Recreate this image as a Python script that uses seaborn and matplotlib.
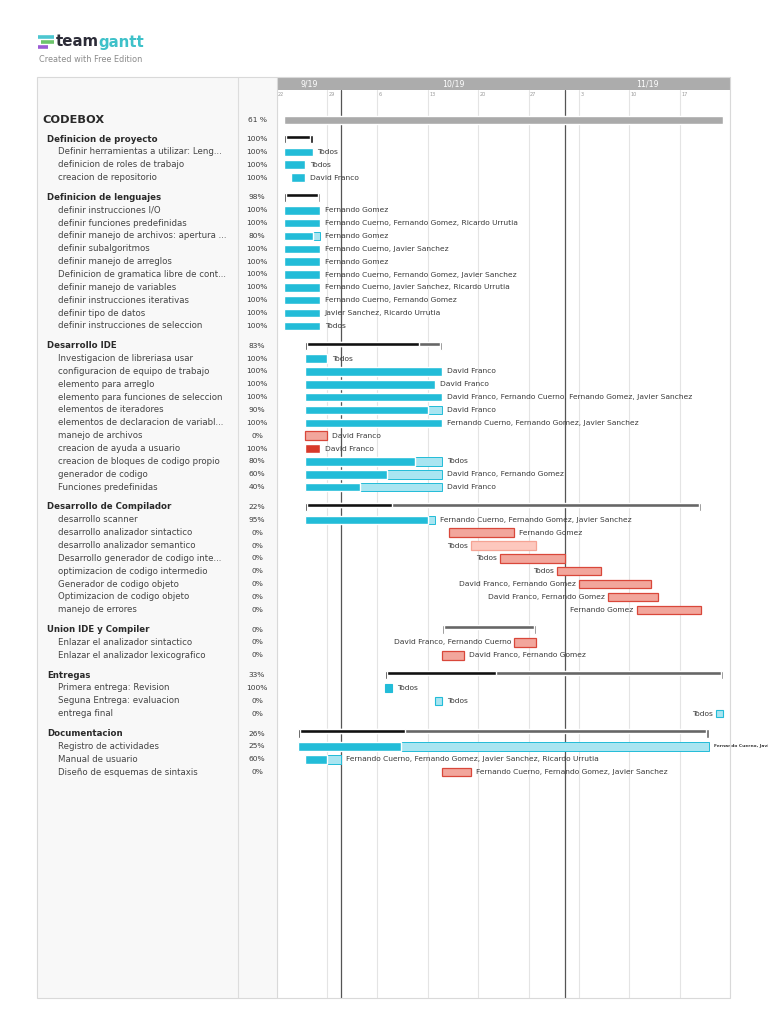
import pandas as pd
import numpy as np
import seaborn as sns
import matplotlib.pyplot as plt
from matplotlib.patches import Rectangle

sns.set_theme(style="white")
plt.rcParams['font.family'] = ['DejaVu Sans']

project_name = "CODEBOX"
project_pct = "61 %"

group_names = ["Definicion de proyecto", "Definicion de lenguajes", "Desarrollo IDE",
               "Desarrollo de Compilador", "Union IDE y Compiler", "Entregas", "Documentacion"]
group_pct = [100, 98, 83, 22, 0, 33, 26]

task_group = [0, 0, 0,
              1, 1, 1, 1, 1, 1, 1, 1, 1, 1,
              2, 2, 2, 2, 2, 2, 2, 2, 2, 2, 2,
              3, 3, 3, 3, 3, 3, 3, 3,
              4, 4,
              5, 5, 5,
              6, 6, 6]

task_names = ["Definir herramientas a utilizar: Leng...", "definicion de roles de trabajo",
              "creacion de repositorio",
              "definir instrucciones I/O", "definir funciones predefinidas",
              "definir manejo de archivos: apertura ...", "definir subalgoritmos",
              "definir manejo de arreglos", "Definicion de gramatica libre de cont...",
              "definir manejo de variables", "definir instrucciones iterativas",
              "definir tipo de datos", "definir instrucciones de seleccion",
              "Investigacion de libreriasa usar", "configuracion de equipo de trabajo",
              "elemento para arreglo", "elemento para funciones de seleccion",
              "elementos de iteradores", "elementos de declaracion de variabl...",
              "manejo de archivos", "creacion de ayuda a usuario",
              "creacion de bloques de codigo propio", "generador de codigo",
              "Funciones predefinidas",
              "desarrollo scanner", "desarrollo analizador sintactico",
              "desarrollo analizador semantico", "Desarrollo generador de codigo inte...",
              "optimizacion de codigo intermedio", "Generador de codigo objeto",
              "Optimizacion de codigo objeto", "manejo de errores",
              "Enlazar el analizador sintactico", "Enlazar el analizador lexicografico",
              "Primera entrega: Revision", "Seguna Entrega: evaluacion", "entrega final",
              "Registro de actividades", "Manual de usuario", "Diseño de esquemas de sintaxis"]

task_pct = [100, 100, 100,
            100, 100, 80, 100, 100, 100, 100, 100, 100, 100,
            100, 100, 100, 100, 90, 100, 0, 100, 80, 60, 40,
            95, 0, 0, 0, 0, 0, 0, 0,
            0, 0,
            100, 0, 0,
            25, 60, 0]

task_start = ["2019-09-23", "2019-09-23", "2019-09-24",
              "2019-09-23", "2019-09-23", "2019-09-23", "2019-09-23", "2019-09-23",
              "2019-09-23", "2019-09-23", "2019-09-23", "2019-09-23", "2019-09-23",
              "2019-09-26", "2019-09-26", "2019-09-26", "2019-09-26", "2019-09-26",
              "2019-09-26", "2019-09-26", "2019-09-26", "2019-09-26", "2019-09-26",
              "2019-09-26",
              "2019-09-26", "2019-10-16", "2019-10-19", "2019-10-23", "2019-10-31",
              "2019-11-03", "2019-11-07", "2019-11-11",
              "2019-10-25", "2019-10-15",
              "2019-10-07", "2019-10-14", "2019-11-22",
              "2019-09-25", "2019-09-26", "2019-10-15"]

task_end = ["2019-09-27", "2019-09-26", "2019-09-26",
            "2019-09-28", "2019-09-28", "2019-09-28", "2019-09-28", "2019-09-28",
            "2019-09-28", "2019-09-28", "2019-09-28", "2019-09-28", "2019-09-28",
            "2019-09-29", "2019-10-15", "2019-10-14", "2019-10-15", "2019-10-15",
            "2019-10-15", "2019-09-29", "2019-09-28", "2019-10-15", "2019-10-15",
            "2019-10-15",
            "2019-10-14", "2019-10-25", "2019-10-28", "2019-11-01", "2019-11-06",
            "2019-11-13", "2019-11-14", "2019-11-20",
            "2019-10-28", "2019-10-18",
            "2019-10-08", "2019-10-15", "2019-11-23",
            "2019-11-21", "2019-10-01", "2019-10-19"]

task_people = ["Todos", "Todos", "David Franco",
               "Fernando Gomez", "Fernando Cuerno, Fernando Gomez, Ricardo Urrutia",
               "Fernando Gomez", "Fernando Cuerno, Javier Sanchez", "Fernando Gomez",
               "Fernando Cuerno, Fernando Gomez, Javier Sanchez",
               "Fernando Cuerno, Javier Sanchez, Ricardo Urrutia",
               "Fernando Cuerno, Fernando Gomez", "Javier Sanchez, Ricardo Urrutia", "Todos",
               "Todos", "David Franco", "David Franco",
               "David Franco, Fernando Cuerno, Fernando Gomez, Javier Sanchez",
               "David Franco", "Fernando Cuerno, Fernando Gomez, Javier Sanchez",
               "David Franco", "David Franco", "Todos", "David Franco, Fernando Gomez",
               "David Franco",
               "Fernando Cuerno, Fernando Gomez, Javier Sanchez", "Fernando Gomez", "Todos",
               "Todos", "Todos", "David Franco, Fernando Gomez",
               "David Franco, Fernando Gomez", "Fernando Gomez",
               "David Franco, Fernando Cuerno", "David Franco, Fernando Gomez",
               "Todos", "Todos", "Todos",
               "Fernando Cuerno, Javier Sanchez",
               "Fernando Cuerno, Fernando Gomez, Javier Sanchez, Ricardo Urrutia",
               "Fernando Cuerno, Fernando Gomez, Javier Sanchez"]

milestones = ["Primera entrega: Revision", "Seguna Entrega: evaluacion", "entrega final"]
salmon_tasks = ["manejo de archivos", "desarrollo analizador sintactico",
                "Desarrollo generador de codigo inte...", "optimizacion de codigo intermedio",
                "Generador de codigo objeto", "Optimizacion de codigo objeto",
                "manejo de errores", "Enlazar el analizador sintactico",
                "Enlazar el analizador lexicografico", "Diseño de esquemas de sintaxis"]
pale_salmon_tasks = ["desarrollo analizador semantico"]
red_tasks = ["creacion de ayuda a usuario"]
labels_on_left = ["desarrollo analizador semantico", "Desarrollo generador de codigo inte...",
                  "optimizacion de codigo intermedio", "Generador de codigo objeto",
                  "Optimizacion de codigo objeto", "manejo de errores",
                  "Enlazar el analizador sintactico", "entrega final"]
tiny_labels = ["Registro de actividades"]

week_ticks = ["22", "29", "6", "13", "20", "27", "3", "10", "17"]
months = ["9/19", "10/19", "11/19"]

# ---- build table ----
origin = pd.Timestamp("2019-09-22")
tasks = pd.DataFrame({"group": task_group, "name": task_names, "pct": task_pct,
                      "start": pd.to_datetime(task_start), "end": pd.to_datetime(task_end),
                      "people": task_people})
tasks["s"] = (tasks["start"] - origin).dt.days
tasks["e"] = (tasks["end"] - origin).dt.days
groups = tasks.groupby("group").agg(s=("s", "min"), e=("e", "max")).reset_index()
groups["name"] = group_names
groups["pct"] = group_pct

# row layout (figure pixels from the top)
ROW, GAP = 12.85, 7.0
y_project = 120
ypos = []
gy = []
y = 139.0
for g in range(len(group_names)):
    gy.append(y)
    n = (tasks["group"] == g).sum()
    for k in range(n):
        ypos.append(y + (k + 1) * ROW)
    y += (n + 1) * ROW + GAP
tasks["y"] = ypos
groups["y"] = gy

BLUE, LBLUE = "#22bcd8", "#a9e5f1"
SAL, SAL_E = "#f2a69c", "#d9473a"
PSAL, PSAL_E = "#fdc8be", "#f5a394"
RED = "#d8392a"
TXT = "#3a3a3a"

W, H = 768, 1024
fig = plt.figure(figsize=(7.68, 10.24), dpi=100)

X0, PX = 276.5, 7.2
NDAYS = 63
chart_top, box_top, box_bot = 90, 77, 998

# chart axes
ax = fig.add_axes([X0 / W, 1 - box_bot / H, NDAYS * PX / W, (box_bot - chart_top) / H])
ax.set_xlim(0, NDAYS)
ax.set_ylim(box_bot, chart_top)
ax.set_facecolor("white")
ax.set_xticks([])
ax.set_yticks([])
for sp in ax.spines.values():
    sp.set_visible(False)

for d in range(0, NDAYS + 1, 7):
    ax.axvline(d, color="#e4e4e4", lw=0.8, zorder=0)
for i, lab in enumerate(week_ticks):
    ax.text(i * 7 + 0.2, 95, lab, fontsize=3.6, color="#9a9a9a", ha="left", va="center")
month_starts = [0, 9, 40, NDAYS]
for d in month_starts[1:-1]:
    ax.axvline(d, color="#555555", lw=0.9, zorder=0.5)

# project bar
ax.barh(y_project, tasks["e"].max() - tasks["s"].min(), left=tasks["s"].min(),
        height=8, color="#aaaaaa", zorder=2)

# group brackets
for _, r in groups.iterrows():
    span = r["e"] - r["s"]
    done = span * r["pct"] / 100
    top = r["y"] - 4.2
    ax.barh(top + 2, span, left=r["s"], height=4, color="#666666", zorder=2)
    if done > 0:
        ax.barh(top + 2, done, left=r["s"], height=4, color="#111111", zorder=3)
    lw_days = 0.3
    ax.barh(top + 4.2, lw_days, left=r["s"], height=8.4,
            color="#111111" if done > 0 else "#666666", zorder=3)
    ax.barh(top + 4.2, lw_days, left=r["e"] - lw_days, height=8.4,
            color="#111111" if r["pct"] >= 100 else "#666666", zorder=3)

# task bars
for _, r in tasks.iterrows():
    span = r["e"] - r["s"]
    if r["name"] in milestones:
        fc = BLUE if r["pct"] >= 100 else LBLUE
        ax.barh(r["y"], span, left=r["s"], height=7.5, color=fc, edgecolor=BLUE,
                lw=0.8, zorder=3)
    elif r["name"] in red_tasks:
        ax.barh(r["y"], span, left=r["s"], height=8.5, color=RED, zorder=3)
    elif r["name"] in salmon_tasks:
        ax.barh(r["y"], span, left=r["s"], height=8.5, color=SAL, edgecolor=SAL_E,
                lw=0.9, zorder=3)
    elif r["name"] in pale_salmon_tasks:
        ax.barh(r["y"], span, left=r["s"], height=8.5, color=PSAL, edgecolor=PSAL_E,
                lw=0.9, zorder=3)
    else:
        if r["pct"] < 100:
            ax.barh(r["y"], span, left=r["s"], height=8.5, color=LBLUE, edgecolor=BLUE,
                    lw=0.7, zorder=3)
        ax.barh(r["y"], span * r["pct"] / 100, left=r["s"], height=8.5, color=BLUE,
                zorder=4)

    if r["name"] in tiny_labels:
        ax.annotate(r["people"], (r["e"], r["y"]), xytext=(4, 0), textcoords="offset points",
                    fontsize=3.2, fontweight="bold", color=TXT, va="center", ha="left",
                    annotation_clip=False)
    elif r["name"] in labels_on_left:
        ax.annotate(r["people"], (r["s"], r["y"]), xytext=(-2.2, 0), textcoords="offset points",
                    fontsize=5.4, color=TXT, va="center", ha="right")
    else:
        ax.annotate(r["people"], (r["e"], r["y"]), xytext=(3.6, 0), textcoords="offset points",
                    fontsize=5.4, color=TXT, va="center", ha="left", annotation_clip=False)

# month band
axm = fig.add_axes([X0 / W, 1 - chart_top / H, NDAYS * PX / W, (chart_top - box_top - 1) / H])
axm.set_xlim(0, NDAYS)
axm.set_ylim(0, 1)
axm.set_facecolor("#acacac")
axm.set_xticks([])
axm.set_yticks([])
for sp in axm.spines.values():
    sp.set_visible(False)
for i, m in enumerate(months):
    axm.text((month_starts[i] + month_starts[i + 1]) / 2, 0.5, m, color="white",
             fontsize=5.6, ha="center", va="center")

# page: logo, task list, box
page = fig.add_axes([0, 0, 1, 1], zorder=5)
page.set_xlim(0, W)
page.set_ylim(H, 0)
page.axis("off")
page.patch.set_alpha(0)

page.plot([38, 54], [36.5, 36.5], color="#4cc6d0", lw=2.6, solid_capstyle="butt")
page.plot([41, 54], [41.5, 41.5], color="#6cc46a", lw=2.6, solid_capstyle="butt")
page.plot([38, 48], [46.5, 46.5], color="#9b5bd4", lw=2.6, solid_capstyle="butt")
t1 = page.text(56, 42, "team", fontsize=10.8, fontweight="bold", color="#2c2c38",
               va="center", ha="left")
fig.canvas.draw()
bb = t1.get_window_extent()
page.text(56 + bb.width - 1, 42, "gantt", fontsize=10.8, fontweight="bold", color="#3ec1c9",
          va="center", ha="left")
page.text(39, 60, "Created with Free Edition", fontsize=5.9, color="#8a8a8a",
          va="center", ha="left")

page.add_patch(Rectangle((37, box_top), X0 - 37, box_bot - box_top, facecolor="#f8f8f8",
                         edgecolor="none", zorder=0))
page.add_patch(Rectangle((37, box_top), 730 - 37, box_bot - box_top, facecolor="none",
                         edgecolor="#d9d9d9", lw=0.8, zorder=3))
page.plot([238, 238], [box_top, box_bot], color="#dddddd", lw=0.8)
page.plot([X0, X0], [box_top, box_bot], color="#d9d9d9", lw=0.8)

page.text(42, y_project, project_name, fontsize=8.2, fontweight="bold", color="#2a2a2a",
          va="center", ha="left")
page.text(257, y_project, project_pct, fontsize=5.4, color=TXT, va="center", ha="center")
for _, r in groups.iterrows():
    page.text(47, r["y"], r["name"], fontsize=6.2, fontweight="bold", color="#2a2a2a",
              va="center", ha="left")
    page.text(257, r["y"], f"{r['pct']}%", fontsize=5.4, color=TXT, va="center", ha="center")
for _, r in tasks.iterrows():
    page.text(58, r["y"], r["name"], fontsize=6.2, color="#444444", va="center", ha="left")
    page.text(257, r["y"], f"{r['pct']}%", fontsize=5.4, color=TXT, va="center", ha="center")

fig.savefig("out.png", dpi=100)
